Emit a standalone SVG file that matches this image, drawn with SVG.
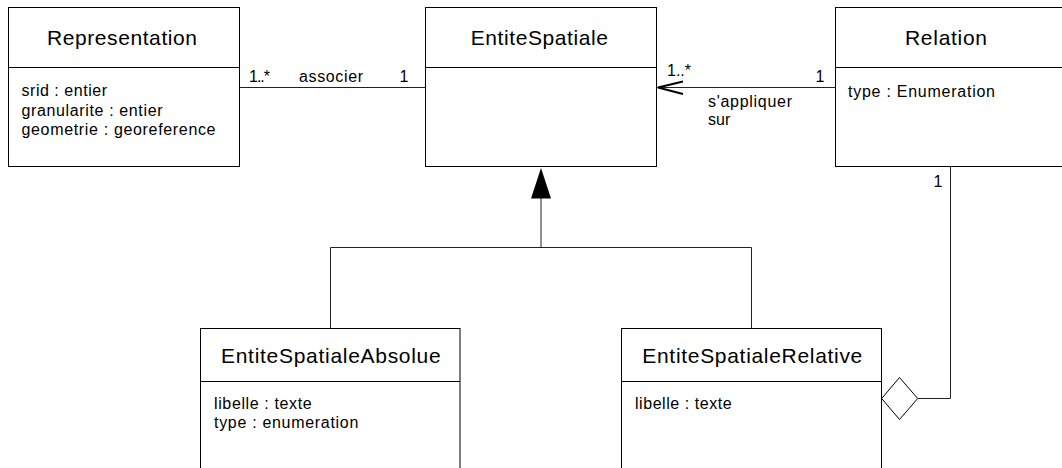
<svg xmlns="http://www.w3.org/2000/svg" width="1062" height="468" viewBox="0 0 1062 468">
<style>
.box{fill:#fff;stroke:#000;stroke-width:1}
.div{stroke:#000;stroke-width:1}
.t{font-family:"Liberation Sans",Arial,sans-serif;font-size:21px;fill:#000}
.a{font-family:"Liberation Sans",Arial,sans-serif;font-size:16px;fill:#000}
.c{fill:none;stroke:#222;stroke-width:1}
</style>
<rect width="1062" height="468" fill="#fff"/>
<g id="connectors">
<line class="c" x1="240" y1="87.5" x2="425" y2="87.5"/>
<line class="c" x1="657" y1="87.5" x2="835" y2="87.5"/>
<polyline points="683,81.5 658,87.5 683,94" fill="none" stroke="#000" stroke-width="2"/>
<polyline class="c" points="330.5,328 330.5,247.5 751.5,247.5 751.5,328"/>
<line class="c" x1="541" y1="247.5" x2="541" y2="196"/>
<polygon points="541,168 531,198.5 551,198.5" fill="#000"/>
<polyline class="c" points="950.5,167 950.5,398.5 917.7,398.5"/>
<polygon points="881.7,398.5 899.5,377.5 917.7,398.5 899.5,419.5" fill="#fff" stroke="#000" stroke-width="1"/>
<text class="a" x="249" y="82" textLength="21">1..*</text>
<text class="a" x="299" y="82" textLength="64">associer</text>
<text class="a" x="404" y="82" text-anchor="middle">1</text>
<text class="a" x="667" y="76" textLength="24">1..*</text>
<text class="a" x="820" y="82" text-anchor="middle">1</text>
<text class="a" x="708" y="107" textLength="84">s'appliquer</text>
<text class="a" x="708" y="125">sur</text>
<text class="a" x="938" y="187" text-anchor="middle">1</text>
</g>
<g id="Representation">
<rect class="box" x="8.5" y="7.5" width="231" height="159"/>
<line class="div" x1="8.5" y1="67.5" x2="239.5" y2="67.5"/>
<text class="t" x="47" y="45" textLength="150">Representation</text>
<text class="a" x="21.5" y="96" textLength="85.5">srid : entier</text>
<text class="a" x="21.5" y="115.5" textLength="141">granularite : entier</text>
<text class="a" x="21.5" y="135" textLength="194">geometrie : georeference</text>
</g>
<g id="EntiteSpatiale">
<rect class="box" x="425.5" y="7.5" width="231" height="159"/>
<line class="div" x1="425.5" y1="67.5" x2="656.5" y2="67.5"/>
<text class="t" x="470.7" y="45" textLength="137.3">EntiteSpatiale</text>
</g>
<g id="Relation">
<rect class="box" x="835.5" y="7.5" width="240" height="159"/>
<line class="div" x1="835.5" y1="67.5" x2="1075.5" y2="67.5"/>
<text class="t" x="905" y="45" textLength="82">Relation</text>
<text class="a" x="848" y="96.5" textLength="147">type : Enumeration</text>
</g>
<g id="EntiteSpatialeAbsolue">
<rect class="box" x="200.5" y="328.5" width="259.5" height="160"/>
<line class="div" x1="200.5" y1="381.5" x2="460" y2="381.5"/>
<text class="t" x="221" y="363.3" textLength="219.7">EntiteSpatialeAbsolue</text>
<text class="a" x="214" y="409.3" textLength="97.7">libelle : texte</text>
<text class="a" x="214" y="428.3" textLength="144.3">type : enumeration</text>
</g>
<g id="EntiteSpatialeRelative">
<rect class="box" x="621.5" y="328.5" width="260" height="160"/>
<line class="div" x1="621.5" y1="381.5" x2="881.5" y2="381.5"/>
<text class="t" x="642.3" y="363.3" textLength="220">EntiteSpatialeRelative</text>
<text class="a" x="635" y="409.3" textLength="96.7">libelle : texte</text>
</g>
</svg>
